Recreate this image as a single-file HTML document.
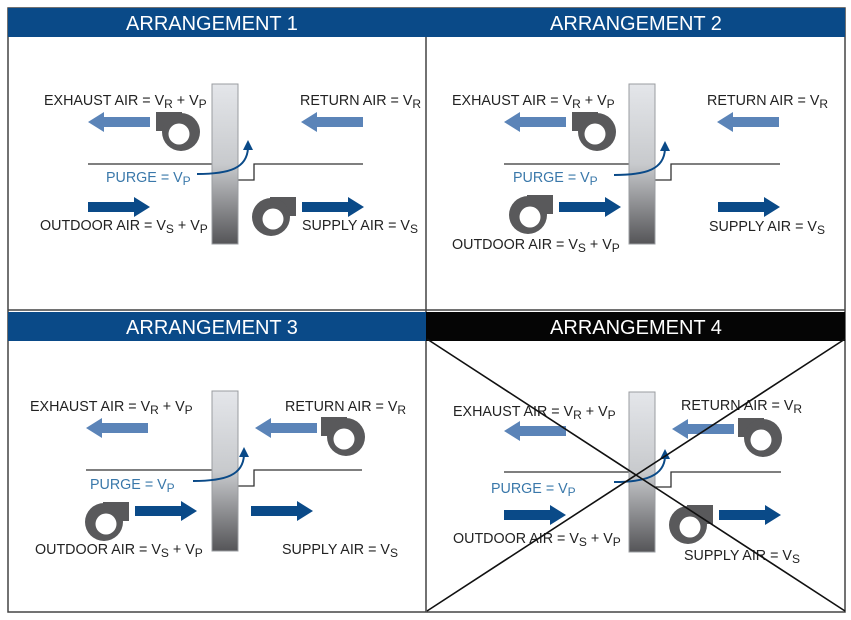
<!DOCTYPE html>
<html><head><meta charset="utf-8"><style>
html,body{margin:0;padding:0;background:#fff}
svg{display:block}
text{font-family:"Liberation Sans",sans-serif}
.l{font-size:14.3px;fill:#222}
.p{font-size:14.3px;fill:#3a78aa}
.h{font-size:20px;fill:#fff}
</style></head><body>
<svg width="851" height="620" viewBox="0 0 851 620" xmlns="http://www.w3.org/2000/svg">
<defs>
<linearGradient id="wg" x1="0" y1="0" x2="0" y2="1">
<stop offset="0" stop-color="#e4e6ea"/><stop offset="0.5" stop-color="#c8cacd"/><stop offset="1" stop-color="#555558"/>
</linearGradient>
<g id="fan"><rect x="0" y="0" width="26" height="19" fill="#59595b"/><circle cx="25" cy="20" r="19" fill="#59595b"/><circle cx="23" cy="22" r="10.5" fill="#fff"/></g>
<g id="ar"><path d="M0,-5 H46 V-10 L62,0 L46,10 V5 H0 Z"/></g>
<g id="wheel"><rect x="0" y="0" width="26" height="160" fill="url(#wg)" stroke="#9a9ca0" stroke-width="1"/></g>
</defs>
<rect x="8" y="8" width="837" height="604" fill="#fff" stroke="#444" stroke-width="1.5"/>
<line x1="426" y1="8" x2="426" y2="612" stroke="#444" stroke-width="1.5"/>
<line x1="8" y1="310" x2="845" y2="310" stroke="#444" stroke-width="1.5"/>
<rect x="8" y="8" width="418" height="29" fill="#0a4a88"/>
<rect x="426" y="8" width="419" height="29" fill="#0a4a88"/>
<rect x="8" y="312" width="418" height="29" fill="#0a4a88"/>
<rect x="426" y="312" width="419" height="29" fill="#050505"/>
<text class="h" x="212" y="30" text-anchor="middle">ARRANGEMENT 1</text>
<text class="h" x="636" y="30" text-anchor="middle">ARRANGEMENT 2</text>
<text class="h" x="212" y="334" text-anchor="middle">ARRANGEMENT 3</text>
<text class="h" x="636" y="334" text-anchor="middle">ARRANGEMENT 4</text>

<!-- Panel 1 -->
<g>
<path d="M88,164 H212 M238,180 H254 V164 H363" stroke="#333" stroke-width="1.3" fill="none"/>
<use href="#wheel" x="212" y="84"/>
<path d="M197,174 C230,174 247,168 248,148" stroke="#0a4a88" stroke-width="2" fill="none"/>
<path d="M243,150 L248,140 L253,150 Z" fill="#0a4a88"/>
<g fill="#5b84b8"><use href="#ar" transform="translate(150,122) scale(-1,1)"/><use href="#ar" transform="translate(363,122) scale(-1,1)"/></g>
<g fill="#0a4a88"><use href="#ar" transform="translate(88,207)"/><use href="#ar" transform="translate(302,207)"/></g>
<use href="#fan" x="156" y="112"/>
<use href="#fan" transform="translate(296,197) scale(-1,1)"/>
<text class="l" x="44" y="105">EXHAUST AIR = V<tspan font-size="12" dy="3">R</tspan><tspan dy="-3"> + V</tspan><tspan font-size="12" dy="3">P</tspan></text>
<text class="l" x="300" y="105">RETURN AIR = V<tspan font-size="12" dy="3">R</tspan></text>
<text class="p" x="106" y="182">PURGE = V<tspan font-size="12" dy="3">P</tspan></text>
<text class="l" x="40" y="230">OUTDOOR AIR = V<tspan font-size="12" dy="3">S</tspan><tspan dy="-3"> + V</tspan><tspan font-size="12" dy="3">P</tspan></text>
<text class="l" x="302" y="230">SUPPLY AIR = V<tspan font-size="12" dy="3">S</tspan></text>
</g>

<!-- Panel 2 -->
<g>
<path d="M504,164 H629 M655,180 H671 V164 H780" stroke="#333" stroke-width="1.3" fill="none"/>
<use href="#wheel" x="629" y="84"/>
<path d="M614,175 C647,175 664,169 665,149" stroke="#0a4a88" stroke-width="2" fill="none"/>
<path d="M660,151 L665,141 L670,151 Z" fill="#0a4a88"/>
<g fill="#5b84b8"><use href="#ar" transform="translate(566,122) scale(-1,1)"/><use href="#ar" transform="translate(779,122) scale(-1,1)"/></g>
<g fill="#0a4a88"><use href="#ar" transform="translate(559,207)"/><use href="#ar" transform="translate(718,207)"/></g>
<use href="#fan" x="572" y="112"/>
<use href="#fan" transform="translate(553,195) scale(-1,1)"/>
<text class="l" x="452" y="105">EXHAUST AIR = V<tspan font-size="12" dy="3">R</tspan><tspan dy="-3"> + V</tspan><tspan font-size="12" dy="3">P</tspan></text>
<text class="l" x="707" y="105">RETURN AIR = V<tspan font-size="12" dy="3">R</tspan></text>
<text class="p" x="513" y="182">PURGE = V<tspan font-size="12" dy="3">P</tspan></text>
<text class="l" x="452" y="249">OUTDOOR AIR = V<tspan font-size="12" dy="3">S</tspan><tspan dy="-3"> + V</tspan><tspan font-size="12" dy="3">P</tspan></text>
<text class="l" x="709" y="231">SUPPLY AIR = V<tspan font-size="12" dy="3">S</tspan></text>
</g>

<!-- Panel 3 -->
<g>
<path d="M86,470 H212 M238,486 H254 V470 H362" stroke="#333" stroke-width="1.3" fill="none"/>
<use href="#wheel" x="212" y="391"/>
<path d="M193,481 C226,481 243,475 244,455" stroke="#0a4a88" stroke-width="2" fill="none"/>
<path d="M239,457 L244,447 L249,457 Z" fill="#0a4a88"/>
<g fill="#5b84b8"><use href="#ar" transform="translate(148,428) scale(-1,1)"/><use href="#ar" transform="translate(317,428) scale(-1,1)"/></g>
<g fill="#0a4a88"><use href="#ar" transform="translate(135,511)"/><use href="#ar" transform="translate(251,511)"/></g>
<use href="#fan" x="321" y="417"/>
<use href="#fan" transform="translate(129,502) scale(-1,1)"/>
<text class="l" x="30" y="411">EXHAUST AIR = V<tspan font-size="12" dy="3">R</tspan><tspan dy="-3"> + V</tspan><tspan font-size="12" dy="3">P</tspan></text>
<text class="l" x="285" y="411">RETURN AIR = V<tspan font-size="12" dy="3">R</tspan></text>
<text class="p" x="90" y="489">PURGE = V<tspan font-size="12" dy="3">P</tspan></text>
<text class="l" x="35" y="554">OUTDOOR AIR = V<tspan font-size="12" dy="3">S</tspan><tspan dy="-3"> + V</tspan><tspan font-size="12" dy="3">P</tspan></text>
<text class="l" x="282" y="554">SUPPLY AIR = V<tspan font-size="12" dy="3">S</tspan></text>
</g>

<!-- Panel 4 -->
<g>
<path d="M504,472 H629 M655,487 H671 V472 H781" stroke="#333" stroke-width="1.3" fill="none"/>
<use href="#wheel" x="629" y="392"/>
<path d="M614,482 C645,482 664,476 665,457" stroke="#0a4a88" stroke-width="2" fill="none"/>
<path d="M660,459 L665,449 L670,459 Z" fill="#0a4a88"/>
<g fill="#5b84b8"><use href="#ar" transform="translate(566,431) scale(-1,1)"/><use href="#ar" transform="translate(734,429) scale(-1,1)"/></g>
<g fill="#0a4a88"><use href="#ar" transform="translate(504,515)"/><use href="#ar" transform="translate(719,515)"/></g>
<use href="#fan" x="738" y="418"/>
<use href="#fan" transform="translate(713,505) scale(-1,1)"/>
<text class="l" x="453" y="416">EXHAUST AIR = V<tspan font-size="12" dy="3">R</tspan><tspan dy="-3"> + V</tspan><tspan font-size="12" dy="3">P</tspan></text>
<text class="l" x="681" y="410">RETURN AIR = V<tspan font-size="12" dy="3">R</tspan></text>
<text class="p" x="491" y="493">PURGE = V<tspan font-size="12" dy="3">P</tspan></text>
<text class="l" x="453" y="543">OUTDOOR AIR = V<tspan font-size="12" dy="3">S</tspan><tspan dy="-3"> + V</tspan><tspan font-size="12" dy="3">P</tspan></text>
<text class="l" x="684" y="560">SUPPLY AIR = V<tspan font-size="12" dy="3">S</tspan></text>
<path d="M427,339 L845,611 M845,339 L427,611" stroke="#111" stroke-width="1.6"/>
</g>
</svg>
</body></html>
